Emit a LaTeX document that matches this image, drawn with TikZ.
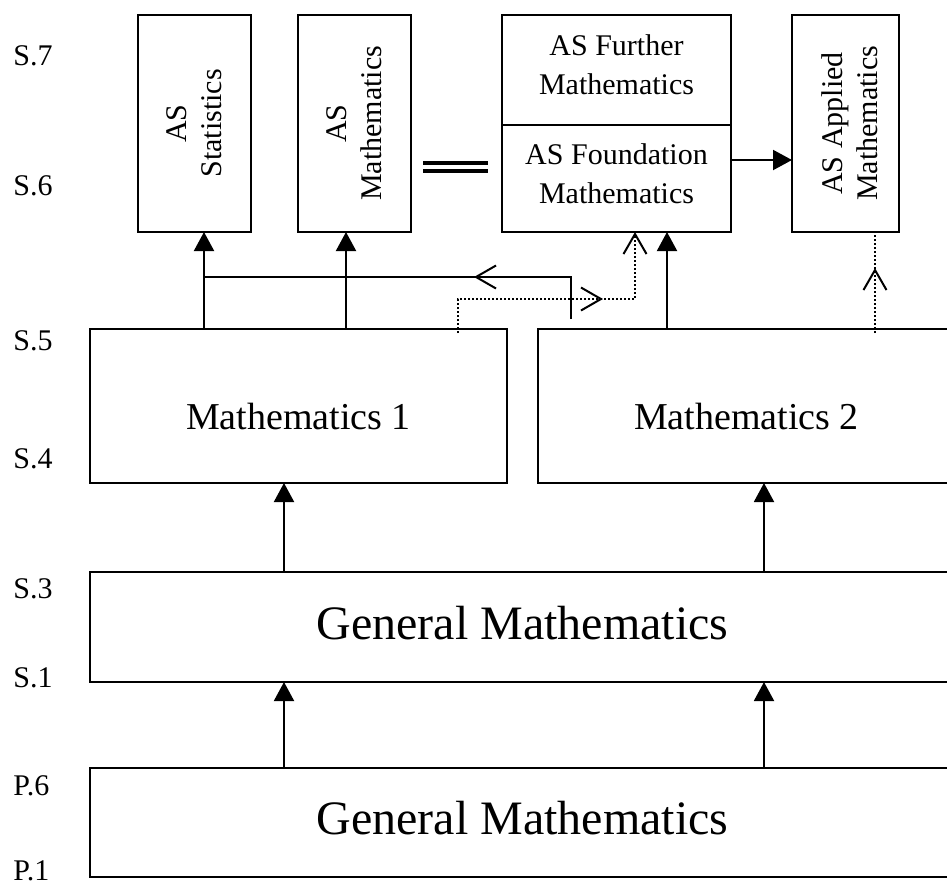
\documentclass[tikz,border=0pt]{standalone}
\usepackage{fontspec}
\setmainfont{Liberation Serif}
\usepackage{tikz}
\usetikzlibrary{arrows.meta, positioning, decorations.markings}
\tikzset{myframe/.style = {draw, line width=1pt, inner sep=0pt, outer sep=0pt},
	tallbox/.style = {myframe, minimum width=#1, minimum height=108.5pt},
	stagelbl/.style = {anchor=base west, inner sep=0pt, font=\fontsize{15}{18}\selectfont},
	uptxt/.style = {rotate=90, align=center, inner sep=0pt, font=\fontsize{15}{17.5}\selectfont},
	smalltxt/.style = {align=center, inner sep=0pt, font=\fontsize{15}{19.5}\selectfont},
	midtxt/.style = {anchor=base, inner sep=0pt, font=\fontsize{19}{22}\selectfont},
	bigtxt/.style = {anchor=base, inner sep=0pt, font=\fontsize{24}{28}\selectfont},
	solidarr/.style = {line width=1pt, -{Triangle[length=9.5pt,width=10pt]}},
	dotline/.style = {line width=1pt, dash pattern=on 1pt off 1pt},
	openhead/.style = {-{Straight Barb[length=10pt,width=11.5pt,line width=1pt]}},
	midbarb/.style = {postaction={decorate}, decoration={markings,
			mark=at position #1 with {\arrow{Straight Barb[length=10pt,width=11.5pt,line width=1pt]}}}}
}
\NewDocumentCommand{\eqsign}{m m}{%
	\draw[line width=2pt, double, double distance=2pt, shorten <=6pt, shorten >=7pt]
	(#1.east |- 0,166.5) -- (#2.west |- 0,166.5);
}

\begin{document}
\begin{tikzpicture}[x=0.5pt, y=-0.5pt]
\useasboundingbox (0,0) rectangle (947,884);
% stage labels
\foreach \nm/\yy/\tx in {s7/65/S.7, s6/195/S.6, s5/350/S.5, s4/468/S.4,
	s3/598/S.3, s1/687/S.1, p6/795/P.6, p1/880/P.1}
	\node[stagelbl] (\nm) at (13,\yy) {\tx};

% AS courses
\node[tallbox=56.5pt] (stats) at (194.5,123.5) {};
\node[tallbox=56.5pt, right=23.5pt of stats] (asmath) {};
\node[myframe, minimum width=114.5pt, minimum height=55pt] (further) at (616.5,70) {};
\node[myframe, minimum width=114.5pt, minimum height=53.5pt, below=0pt of further] (found) {};
\node[tallbox=53.5pt] (applied) at (845.5,123.5) {};
\node[uptxt] (statsT) at (stats.center) {AS\\Statistics};
\node[uptxt] (asmathT) at (asmath.center) {AS\\Mathematics};
\node[smalltxt] (furtherT) at ([yshift=2.5pt]further.center) {AS Further\\Mathematics};
\node[smalltxt] (foundT) at ([yshift=2.5pt]found.center) {AS Foundation\\Mathematics};
\node[uptxt] (appliedT) at ([xshift=2pt]applied.center) {AS Applied\\Mathematics};

% S.4 - S.5
\node[myframe, minimum width=208.5pt, minimum height=77pt] (m1) at (298.5,406) {};
\node[myframe, minimum width=208.5pt, minimum height=77pt, right=15.5pt of m1] (m2) {};
\node[midtxt] (m1T) at ([yshift=-11.5pt]m1.center) {Mathematics 1};
\node[midtxt] (m2T) at ([yshift=-11.5pt]m2.center) {Mathematics 2};

% general mathematics
\node[myframe, minimum width=432.5pt, minimum height=55pt] (gmS) at (522.5,627) {};
\node[myframe, minimum width=432.5pt, minimum height=54.5pt, below=43pt of gmS] (gmP) {};
\node[bigtxt] (gmST) at ([yshift=-6pt]gmS.center) {General Mathematics};
\node[bigtxt] (gmPT) at ([yshift=-6pt]gmP.center) {General Mathematics};

% connectors
\draw[solidarr] (gmP.north -| 284,0) -- (gmS.south -| 284,0);
\draw[solidarr] (gmP.north -| 764,0) -- (gmS.south -| 764,0);
\draw[solidarr] (gmS.north -| 284,0) -- (m1.south -| 284,0);
\draw[solidarr] (gmS.north -| 764,0) -- (m2.south -| 764,0);
\draw[solidarr] (m1.north -| 204,0) -- (stats.south -| 204,0);
\draw[solidarr] (m1.north -| 346,0) -- (asmath.south -| 346,0);
\draw[solidarr] (m2.north -| 667,0) -- (found.south -| 667,0);
\draw[solidarr] (found.east |- 0,160) -- (applied.west |- 0,160);
\eqsign{asmath}{found}

\coordinate (m2tap) at (571,319);
\coordinate (statsjoin) at (204,277);
\draw[line width=1pt, midbarb=69.5pt] (m2tap) |- (statsjoin);

\coordinate (m1tap) at (458,333);
\draw[dotline, openhead, midbarb=89.5pt] (m1tap) -- ++(0,-34) -| (found.south -| 635,0);

\coordinate (m2tapb) at (875,333);
\draw[dotline, midbarb=32.5pt] (m2tapb) -- (applied.south -| 875,0);
\end{tikzpicture}
\end{document}
